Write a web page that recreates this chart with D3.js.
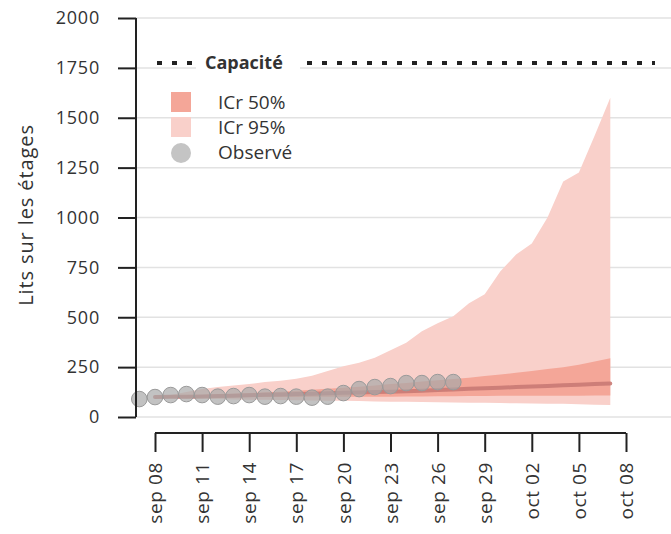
<!DOCTYPE html>
<html><head><meta charset="utf-8">
<script src="https://cdn.jsdelivr.net/npm/d3@7"></script>
<style>body{margin:0;background:#fff;font-family:"Open Sans",sans-serif}</style>
</head><body><svg id="c" width="671" height="534"></svg>
<script>
const obsDates = ["2020-09-07","2020-09-08","2020-09-09","2020-09-10","2020-09-11","2020-09-12","2020-09-13","2020-09-14","2020-09-15","2020-09-16","2020-09-17","2020-09-18","2020-09-19","2020-09-20","2020-09-21","2020-09-22","2020-09-23","2020-09-24","2020-09-25","2020-09-26","2020-09-27"];
const obsValues = [90,100,110,115,110,102,105,110,102,105,102,97,102,120,140,150,155,170,170,175,175];
const projStart = "2020-09-08";
const median = [100,101,102,103,105,107,109,111,113,115,117,119,121,123,125,127,129,132,135,138,141,144,147,150,153,156,159,162,165,168];
const upper50 = [100,104,107,110,113,117,120,124,127,131,136,142,147,152,158,165,171,178,184,190,197,205,213,222,231,240,250,262,278,295];
const lower50 = [98,98,98,99,99,99,100,100,100,100,101,101,101,102,102,102,103,103,104,104,105,105,106,106,106,107,107,107,108,108];
const upper95 = [100,110,125,140,150,158,165,175,182,192,207,230,255,272,297,335,372,430,470,505,570,615,730,815,870,1000,1180,1225,1410,1600];
const lower95 = [95,94,93,92,90,88,87,86,85,84,83,82,81,80,78,77,76,75,74,73,72,71,70,69,68,67,66,64,62,60];
const capacity = 1774;
const yTicks = [0,250,500,750,1000,1250,1500,1750,2000];
const xTickDates = ["2020-09-08","2020-09-11","2020-09-14","2020-09-17","2020-09-20","2020-09-23","2020-09-26","2020-09-29","2020-10-02","2020-10-05","2020-10-08"];
const legendItems = ["ICr 50%","ICr 95%","Observé"];
const capLabel = "Capacité";
const yLabel = "Lits sur les étages";

const FONT = "'Open Sans',sans-serif";
const parse = d3.utcParse("%Y-%m-%d");
const svg = d3.select("#c");
const x = d3.scaleUtc().domain([parse("2020-09-08"), parse("2020-10-08")]).range([155, 626]);
const y = d3.scaleLinear().domain([0, 2000]).range([417, 18]);
const start = parse(projStart);
const proj = median.map((m,i)=>({d:d3.utcDay.offset(start,i), m, u50:upper50[i], l50:lower50[i], u95:upper95[i], l95:lower95[i]}));

// gridlines
svg.append("g").selectAll("line").data(yTicks).join("line")
  .attr("x1",136).attr("x2",671).attr("y1",d=>y(d)).attr("y2",d=>y(d))
  .attr("stroke","#e2e2e2").attr("stroke-width",1.5);

// bands
svg.append("path").datum(proj).attr("fill","#f9d0ca")
  .attr("d", d3.area().x(d=>x(d.d)).y0(d=>y(d.l95)).y1(d=>y(d.u95)));
svg.append("path").datum(proj).attr("fill","#f4a698")
  .attr("d", d3.area().x(d=>x(d.d)).y0(d=>y(d.l50)).y1(d=>y(d.u50)));
svg.append("path").datum(proj).attr("fill","none").attr("stroke","#c97a74").attr("stroke-width",4).attr("stroke-opacity",0.9)
  .attr("stroke-linecap","round")
  .attr("d", d3.line().x(d=>x(d.d)).y(d=>y(d.m)));

// observed
svg.append("g").selectAll("circle").data(obsDates.map((d,i)=>({d:parse(d), v:obsValues[i]}))).join("circle")
  .attr("cx",d=>x(d.d)).attr("cy",d=>y(d.v)).attr("r",7.8)
  .attr("fill","#a8a8a8").attr("fill-opacity",0.7).attr("stroke","#9a9a9a").attr("stroke-width",1);

// capacity
svg.append("line").attr("x1",157).attr("x2",655).attr("y1",y(capacity)).attr("y2",y(capacity))
  .attr("stroke","#222").attr("stroke-width",4).attr("stroke-dasharray","5,10");
svg.append("rect").attr("x",196).attr("y",y(capacity)-12).attr("width",104).attr("height",24).attr("fill","#fff");
svg.append("text").attr("x",205).attr("y",y(capacity)+6).text(capLabel)
  .attr("font-size",18).attr("font-weight",700).attr("fill","#333").attr("font-family",FONT);

// legend
const lg = svg.append("g");
lg.append("rect").attr("x",171).attr("y",92).attr("width",20).attr("height",20).attr("fill","#f4a698");
lg.append("rect").attr("x",171).attr("y",117).attr("width",20).attr("height",20).attr("fill","#f9d0ca");
lg.append("circle").attr("cx",181).attr("cy",153).attr("r",10).attr("fill","#c4c4c4");
lg.selectAll("text").data(legendItems).join("text")
  .attr("x",218).attr("y",(d,i)=>109+i*25).text(d=>d)
  .attr("font-size",19).attr("fill","#333").attr("font-family",FONT);

// y axis
const ya = svg.append("g").attr("transform","translate(136,0)")
  .call(d3.axisLeft(y).tickValues(yTicks).tickSize(18).tickPadding(18).tickFormat(d3.format("d")));
ya.select(".domain").attr("stroke","#222").attr("stroke-width",2).attr("d","M0,18V417");
ya.selectAll(".tick line").attr("stroke","#222").attr("stroke-width",2);
ya.selectAll("text").attr("font-size",18).attr("fill","#333").attr("font-family",FONT).attr("letter-spacing",0.8);

svg.append("text").attr("transform","translate(33,215) rotate(-90)").attr("text-anchor","middle")
  .text(yLabel).attr("font-size",20).attr("letter-spacing",0.9).attr("fill","#333").attr("font-family",FONT);

// x axis
const xa = svg.append("g").attr("transform","translate(0,433)")
  .call(d3.axisBottom(x).tickValues(xTickDates.map(parse)).tickSize(19).tickSizeOuter(0)
    .tickFormat(d=>d3.utcFormat("%b %d")(d).toLowerCase()));
xa.select(".domain").attr("stroke","#222").attr("stroke-width",2).attr("d","M155,0H626");
xa.selectAll(".tick line").attr("stroke","#222").attr("stroke-width",2);
xa.selectAll("text").attr("font-size",19).attr("fill","#333").attr("font-family",FONT).attr("letter-spacing",0.6)
  .attr("transform","rotate(-90)").attr("text-anchor","end").attr("x",-29).attr("y",0).attr("dy","0.35em");
</script></body></html>
